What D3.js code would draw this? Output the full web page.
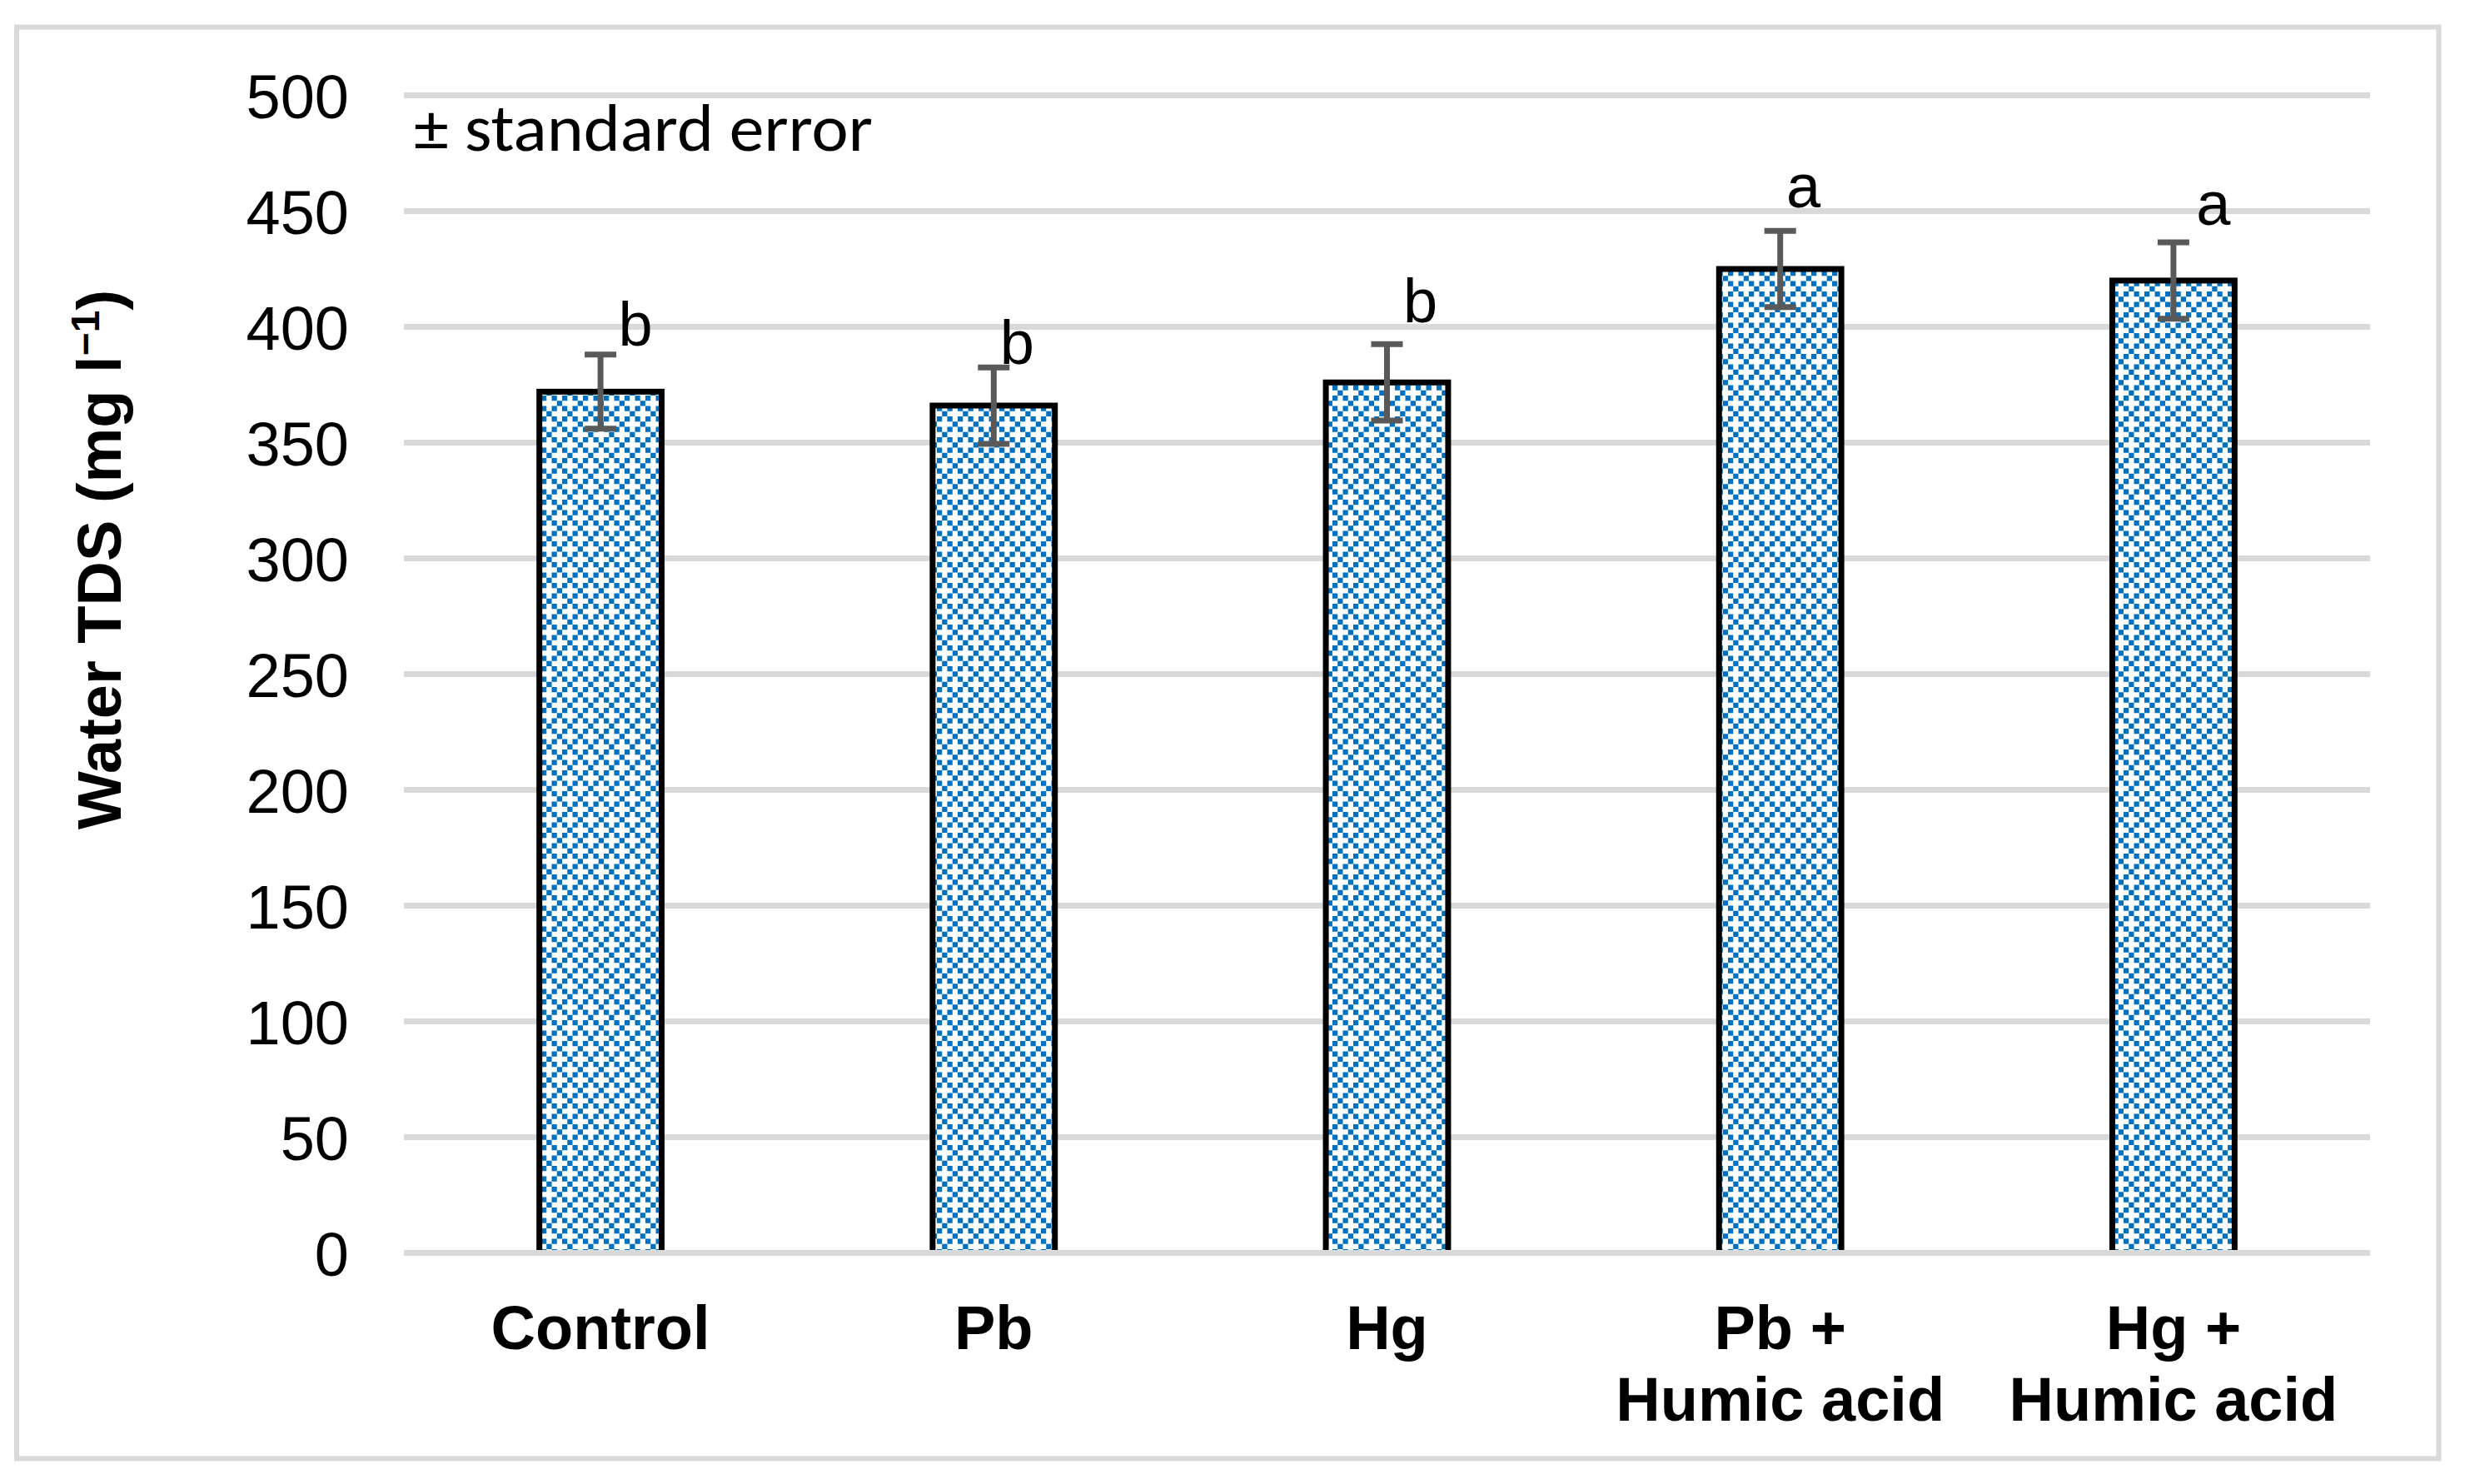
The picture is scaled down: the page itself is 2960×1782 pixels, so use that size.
<!DOCTYPE html>
<html>
<head>
<meta charset="utf-8">
<script src="https://cdn.jsdelivr.net/npm/d3@7"></script>
<style>
  html, body { margin: 0; padding: 0; background: #ffffff; }
  svg { display: block; }
</style>
</head>
<body>
<svg id="chart" width="2960" height="1782"></svg>
<script>
// ---------------- data ----------------
const categories = ["Control", "Pb", "Hg", "Pb + Humic acid", "Hg + Humic acid"];
const categoryLines = [["Control"], ["Pb"], ["Hg"], ["Pb +", "Humic acid"], ["Hg +", "Humic acid"]];
const tdsMeans = [372, 366, 376, 425, 420];
const tdsSE = [16, 16.5, 16.5, 16.5, 16.5];
const letters = ["b", "b", "b", "a", "a"];
const yTicks = [0, 50, 100, 150, 200, 250, 300, 350, 400, 450, 500];
const yLabel = "Water TDS (mg l";
const yLabelSup = "\u22121";
const note = "\u00B1 standard error";

// ---------------- layout ----------------
const W = 2960, H = 1782;
const plot = { left: 485, right: 2846, top: 114.5, bottom: 1504.5 };
// label offsets (px) relative to bar centre and error-bar top
const labelOffsets = [[42, 11], [28, 4], [40, 26], [28, 28], [48, 21]];

const svg = d3.select("#chart");

// pattern
const defs = svg.append("defs");
const tile = 25, blk = 6.25;
const pat = defs.append("pattern")
  .attr("id", "diamondDots")
  .attr("patternUnits", "userSpaceOnUse")
  .attr("width", tile).attr("height", tile)
  .attr("x", 0).attr("y", 0);
pat.append("rect").attr("width", tile).attr("height", tile).attr("fill", "#ffffff");
const cells = [[0,0],[2,0],[3,1],[0,2],[2,2],[1,3]];
pat.selectAll("rect.c").data(cells).enter().append("rect")
  .attr("class", "c")
  .attr("x", d => d[0] * blk).attr("y", d => d[1] * blk)
  .attr("width", blk).attr("height", blk)
  .attr("fill", "#0070C0");

// outer border
svg.append("rect")
  .attr("x", 20).attr("y", 32.5)
  .attr("width", 2928.5 - 20).attr("height", 1751.5 - 32.5)
  .attr("fill", "#ffffff")
  .attr("stroke", "#d9d9d9").attr("stroke-width", 6);

// scales
const x = d3.scaleBand()
  .domain(categories)
  .range([plot.left, plot.right])
  .paddingInner(0.689)
  .paddingOuter(0.3445);
const y = d3.scaleLinear().domain([0, 500]).range([plot.bottom, plot.top]);

// gridlines (except zero line, drawn later on top)
svg.append("g").selectAll("line")
  .data(yTicks.filter(t => t !== 0)).enter().append("line")
  .attr("x1", plot.left).attr("x2", plot.right)
  .attr("y1", d => y(d)).attr("y2", d => y(d))
  .attr("stroke", "#d9d9d9").attr("stroke-width", 7);

// y axis labels
const yAxis = d3.axisLeft(y).tickValues(yTicks).tickSize(0).tickPadding(0);
const gy = svg.append("g")
  .attr("transform", `translate(${419},0)`)
  .call(yAxis);
gy.select(".domain").remove();
gy.selectAll("text")
  .attr("font-family", "'Liberation Sans', Arial, sans-serif")
  .attr("font-size", 74)
  .attr("fill", "#000000")
  .attr("dy", "0.36em");

// bars
svg.append("g").selectAll("rect")
  .data(categories).enter().append("rect")
  .attr("x", d => x(d))
  .attr("y", (d, i) => y(tdsMeans[i]))
  .attr("width", x.bandwidth())
  .attr("height", (d, i) => y(0) - y(tdsMeans[i]))
  .attr("fill", "url(#diamondDots)")
  .attr("stroke", "#000000")
  .attr("stroke-width", 7);

// zero line on top
svg.append("line")
  .attr("x1", plot.left).attr("x2", plot.right)
  .attr("y1", y(0)).attr("y2", y(0))
  .attr("stroke", "#d9d9d9").attr("stroke-width", 7);

// error bars
const eb = svg.append("g").attr("stroke", "#595959").attr("stroke-width", 7);
categories.forEach((c, i) => {
  const cx = x(c) + x.bandwidth() / 2;
  const yt = y(tdsMeans[i] + tdsSE[i]);
  const yb = y(tdsMeans[i] - tdsSE[i]);
  eb.append("line").attr("x1", cx).attr("x2", cx).attr("y1", yt).attr("y2", yb);
  eb.append("line").attr("x1", cx - 19).attr("x2", cx + 19).attr("y1", yt).attr("y2", yt);
  eb.append("line").attr("x1", cx - 19).attr("x2", cx + 19).attr("y1", yb).attr("y2", yb);
});

// significance letters
svg.append("g").selectAll("text")
  .data(categories).enter().append("text")
  .attr("x", (d, i) => x(d) + x.bandwidth() / 2 + labelOffsets[i][0])
  .attr("y", (d, i) => y(tdsMeans[i] + tdsSE[i]) - labelOffsets[i][1])
  .attr("text-anchor", "middle")
  .attr("font-family", "'Liberation Sans', Arial, sans-serif")
  .attr("font-size", 74)
  .attr("fill", "#000000")
  .text((d, i) => letters[i]);

// x category labels
const xl = svg.append("g");
categories.forEach((c, i) => {
  const t = xl.append("text")
    .attr("x", x(c) + x.bandwidth() / 2)
    .attr("y", 1620)
    .attr("text-anchor", "middle")
    .attr("font-family", "'Liberation Sans', Arial, sans-serif")
    .attr("font-weight", "bold")
    .attr("font-size", 74)
    .attr("fill", "#000000");
  categoryLines[i].forEach((ln, j) => {
    t.append("tspan")
      .attr("x", x(c) + x.bandwidth() / 2)
      .attr("dy", j === 0 ? 0 : 86)
      .text(ln);
  });
});

// y axis title
const yt = svg.append("text")
  .attr("transform", `translate(145, 672) rotate(-90)`)
  .attr("text-anchor", "middle")
  .attr("font-family", "'Liberation Sans', Arial, sans-serif")
  .attr("font-weight", "bold")
  .attr("font-size", 74)
  .attr("fill", "#000000");
yt.append("tspan").text(yLabel);
yt.append("tspan").attr("font-size", 48).attr("dy", -26).text(yLabelSup);
yt.append("tspan").attr("dy", 26).text(")");

// note
svg.append("text")
  .attr("x", 497).attr("y", 181)
  .attr("font-family", "Carlito, Lato, 'Open Sans', sans-serif")
  .attr("font-size", 80)
  .attr("textLength", 551)
  .attr("lengthAdjust", "spacingAndGlyphs")
  .attr("fill", "#000000")
  .text(note);
</script>
</body>
</html>
